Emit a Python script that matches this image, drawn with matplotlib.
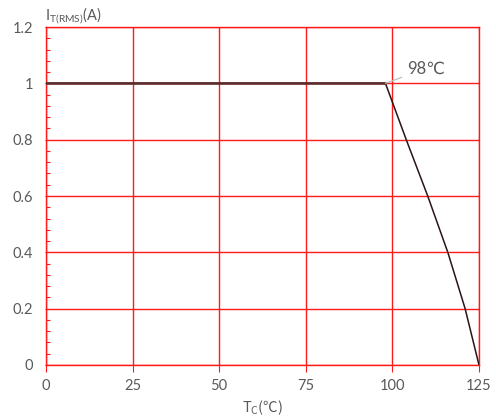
import matplotlib
matplotlib.use("Agg")
import matplotlib.pyplot as plt
from matplotlib.ticker import MultipleLocator

plt.rcParams["font.family"] = ["Lato", "DejaVu Sans"]
plt.rcParams["mathtext.default"] = "regular"

# derating curve
tc = [0, 98, 104, 110.2, 116, 121, 125]
it_rms = [1.0, 1.0, 0.8, 0.6, 0.4, 0.2, 0.0]

x_ticks = [0, 25, 50, 75, 100, 125]
y_ticks = [0, 0.2, 0.4, 0.6, 0.8, 1.0, 1.2]
y_labels = ["0", "0.2", "0.4", "0.6", "0.8", "1", "1.2"]

knee_x, knee_y = 98, 1.0
knee_text = "98℃"

grey = "#595959"
red = "#ff1a1a"

fig = plt.figure(figsize=(4.96, 4.18), dpi=100)
ax = fig.add_axes([0.0927, 0.1268, 0.8730, 0.8086])

ax.set_xlim(0, 125)
ax.set_ylim(0, 1.2)
ax.set_xticks(x_ticks)
ax.set_yticks(y_ticks)
ax.set_yticklabels(y_labels)
ax.yaxis.set_minor_locator(MultipleLocator(0.04))

ax.grid(True, which="major", color=red, lw=1.0)
ax.set_axisbelow(True)
for s in ax.spines.values():
    s.set_color(red)
    s.set_linewidth(1.0)

ax.tick_params(axis="x", which="major", direction="out", length=5, color=red,
               labelcolor=grey, labelsize=10.5, pad=5)
ax.tick_params(axis="y", which="major", direction="out", length=1, color=red,
               labelcolor=grey, labelsize=10.5, pad=8)
ax.tick_params(axis="y", which="minor", direction="in", length=3, color=red, width=0.8)

ax.plot(tc, it_rms, color="#2a1414", lw=1.1, zorder=3)
ax.plot(tc[:2], it_rms[:2], color="#5a2a2a", lw=1.8, zorder=3)

ax.annotate(knee_text, xy=(knee_x, knee_y), xytext=(104.3, 1.053),
            color=grey, fontsize=12, va="center", ha="left",
            arrowprops=dict(arrowstyle="-", color="#bfbfbf", lw=0.9,
                            shrinkA=2, shrinkB=0))

ax.set_xlabel("T$_{C}$(℃)", color=grey, fontsize=10.5, labelpad=4,
              family="Noto Sans CJK SC")
fig.text(0.091, 0.962, "I$_{T(RMS)}$(A)", color=grey, fontsize=10.5,
         ha="left", va="center")

fig.savefig("out.png", dpi=100)
